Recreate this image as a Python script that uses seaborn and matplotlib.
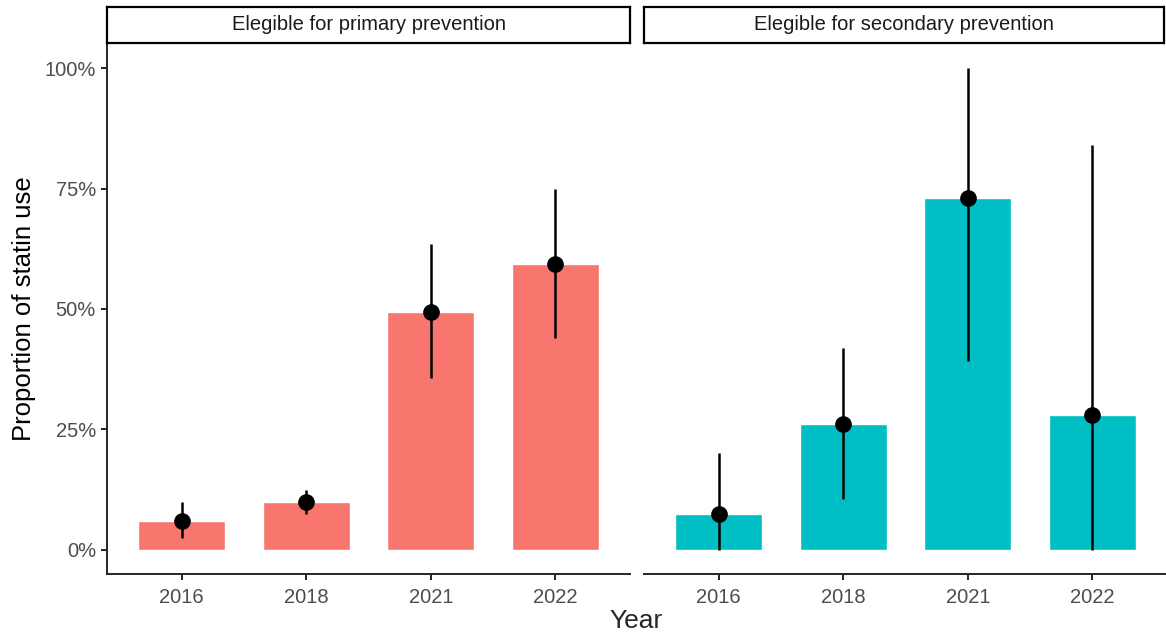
import numpy as np
import pandas as pd
import seaborn as sns
import matplotlib.pyplot as plt
from matplotlib.ticker import PercentFormatter

sns.set_theme(style="ticks")
plt.rcParams['font.family'] = ['Liberation Sans', 'DejaVu Sans']

years = ["2016", "2018", "2021", "2022"]
panels = ["Elegible for primary prevention", "Elegible for secondary prevention"]
colors = ["#F8766D", "#00BFC4"]

# proportion of statin use (%), with lower / upper interval
primary_est = [6.1, 9.9, 49.4, 59.4]
primary_low = [2.5, 7.5, 35.6, 43.9]
primary_high = [9.9, 12.4, 63.4, 75.0]

secondary_est = [7.5, 26.1, 73.1, 27.9]
secondary_low = [0.0, 10.6, 39.3, 0.0]
secondary_high = [20.2, 42.0, 100.0, 84.1]

est = [primary_est, secondary_est]
low = [primary_low, secondary_low]
high = [primary_high, secondary_high]

W, H = 1166, 638
fig = plt.figure(figsize=(W / 100, H / 100), dpi=100)

boxes = [(107, 630), (644, 1167)]
ax_bottom, ax_top = 574, 44
strip_bottom, strip_top = 43, 7

for i, (x0, x1) in enumerate(boxes):
    ax = fig.add_axes([x0 / W, 1 - ax_bottom / H, (x1 - x0) / W,
                       (ax_bottom - ax_top) / H])
    df = pd.DataFrame({"Year": years, "value": est[i]})
    sns.barplot(data=df, x="Year", y="value", color=colors[i], width=0.7,
                saturation=1, ax=ax)
    pos = np.arange(len(years))
    e = np.array(est[i])
    ax.errorbar(pos, e, yerr=[e - np.array(low[i]), np.array(high[i]) - e],
                fmt="o", color="black", ms=11, elinewidth=1.8, capsize=0,
                zorder=3)
    ax.set_xlim(-0.6, 3.6)
    ax.set_ylim(-5, 105)
    ax.set_yticks([0, 25, 50, 75, 100])
    ax.yaxis.set_major_formatter(PercentFormatter(decimals=0))
    ax.set_xlabel("")
    ax.set_ylabel("")
    for s in ["top", "right"]:
        ax.spines[s].set_visible(False)
    ax.spines["bottom"].set_linewidth(1.4)
    ax.spines["left"].set_linewidth(1.4)
    ax.tick_params(labelsize=14.5, colors="#4D4D4D", length=4, width=1.2,
                   pad=4)
    ax.tick_params(axis="x", pad=6)
    ax.tick_params(axis="both", color="black")
    if i == 1:
        ax.spines["left"].set_visible(False)
        ax.tick_params(axis="y", left=False, labelleft=False)
    else:
        ax.set_ylabel("Proportion of statin use", fontsize=18.5,
                      color="black", labelpad=6)

    sx1 = min(x1, 1164)
    sax = fig.add_axes([x0 / W, 1 - strip_bottom / H, (sx1 - x0) / W,
                        (strip_bottom - strip_top) / H])
    sax.set_xticks([])
    sax.set_yticks([])
    for s in sax.spines.values():
        s.set_linewidth(1.6)
        s.set_color("black")
    sax.text(0.5, 0.5, panels[i], ha="center", va="center", fontsize=14.5,
             color="#1A1A1A", transform=sax.transAxes)

fig.text((107 + 1166) / 2 / W, 1 - 621 / H, "Year", ha="center",
         va="center", fontsize=19)

fig.savefig("out.png", dpi=100)
